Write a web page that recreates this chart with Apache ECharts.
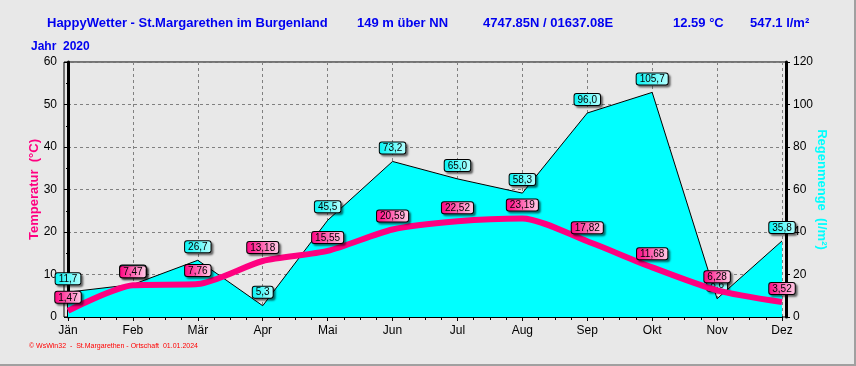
<!DOCTYPE html>
<html>
<head>
<meta charset="utf-8">
<script src="https://cdn.jsdelivr.net/npm/echarts@6/dist/echarts.min.js"></script>
<style>
  html, body { margin: 0; padding: 0; background: #e8e8e8; }
  #main { width: 856px; height: 366px; }
</style>
</head>
<body>
<div id="main"></div>
<script>
// Monatswerte 2020
var monate = ['Jän', 'Feb', 'Mär', 'Apr', 'Mai', 'Jun', 'Jul', 'Aug', 'Sep', 'Okt', 'Nov', 'Dez']
var temperatur = [1.47, 7.47, 7.76, 13.18, 15.55, 20.59, 22.52, 23.19, 17.82, 11.68, 6.28, 3.52]
var regen = [11.7, 15.3, 26.7, 5.3, 45.5, 73.2, 65.0, 58.3, 96.0, 105.7, 8.6, 35.8]

var blau = '#0000f0'
var pink = '#ff0080'
var font = 'Liberation Sans, Arial, sans-serif'

var myChart = echarts.init(document.getElementById('main'))

function boxLabel(dec, grad) {
  return {
    show: true,
    position: 'top',
    distance: 8,
    formatter: function (p) {
      return p.value[1].toFixed(dec).replace('.', ',')
    },
    fontFamily: font,
    fontSize: 10,
    color: '#000',
    backgroundColor: grad,
    borderColor: '#000',
    borderWidth: 1,
    borderRadius: 2,
    padding: [1, 3, 0, 3],
    shadowColor: 'rgba(0,0,0,0.45)',
    shadowOffsetX: 2,
    shadowOffsetY: 2,
    shadowBlur: 2
  }
}

function kopf(text, x) {
  return { text: text, left: x, top: 12, textStyle: { color: blau, fontSize: 13, fontWeight: 'bold', fontFamily: font } }
}

myChart.setOption({
  backgroundColor: '#e8e8e8',
  animation: false,
  title: [
    kopf('HappyWetter - St.Margarethen im Burgenland', 42),
    kopf('149 m über NN', 352),
    kopf('4747.85N / 01637.08E', 478),
    kopf('12.59 °C', 668),
    kopf('547.1 l/m²', 745),
    { text: 'Jahr  2020', left: 26, top: 36, textStyle: { color: blau, fontSize: 12, fontWeight: 'bold', fontFamily: font } },
    { text: '© WsWin32  -  St.Margarethen - Ortschaft  01.01.2024', left: 24, top: 338, textStyle: { color: '#ff0000', fontSize: 7, fontWeight: 'normal', fontFamily: font } }
  ],
  grid: [
    // innerer Bereich: Jän..Dez
    { left: 68, right: 74, top: 62, bottom: 49 },
    // Rahmen
    { left: 64, right: 70, top: 62, bottom: 49, show: true, borderColor: '#000', borderWidth: 1, backgroundColor: 'transparent' }
  ],
  xAxis: [
    {
      type: 'value',
      gridIndex: 0,
      min: 0,
      max: 11,
      interval: 1,
      axisLine: { lineStyle: { color: '#000', width: 2 } },
      axisTick: { length: 4, lineStyle: { color: '#000' } },
      minorTick: { show: true, splitNumber: 4, length: 3, lineStyle: { color: '#000' } },
      axisLabel: {
        margin: 8,
        color: '#000',
        fontSize: 12,
        fontFamily: font,
        formatter: function (v) { return monate[v] }
      },
      splitLine: { show: true, lineStyle: { color: '#808080', type: [3, 3] } }
    },
    { type: 'value', gridIndex: 1, show: false, min: 0, max: 1 }
  ],
  yAxis: [
    {
      type: 'value',
      gridIndex: 0,
      min: 0,
      max: 60,
      interval: 10,
      offset: 4,
      name: 'Temperatur  (°C)',
      nameLocation: 'middle',
      nameGap: 23,
      nameMoveOverlap: false,
      nameTextStyle: { color: pink, fontSize: 13, fontWeight: 'bold', fontFamily: font },
      axisLine: { show: true, lineStyle: { color: '#000', width: 3 } },
      axisTick: { show: true, length: 4, lineStyle: { color: '#000' } },
      minorTick: { show: true, splitNumber: 2, length: 2, lineStyle: { color: '#000' } },
      axisLabel: { margin: 7, color: '#000', fontSize: 12, fontFamily: font },
      splitLine: { show: true, lineStyle: { color: '#808080', type: [3, 3] } }
    },
    {
      type: 'value',
      gridIndex: 0,
      position: 'right',
      min: 0,
      max: 120,
      interval: 20,
      offset: 4,
      name: 'Regenmenge  (l/m²)',
      nameLocation: 'middle',
      nameRotate: -90,
      nameGap: 29,
      nameMoveOverlap: false,
      nameTextStyle: { color: '#00ffff', fontSize: 13, fontWeight: 'bold', fontFamily: font },
      axisLine: { show: true, lineStyle: { color: '#000', width: 3 } },
      axisTick: { show: true, length: 4, lineStyle: { color: '#000' } },
      minorTick: { show: true, splitNumber: 2, length: 2, lineStyle: { color: '#000' } },
      axisLabel: { margin: 7, color: '#000', fontSize: 12, fontFamily: font },
      splitLine: { show: false }
    },
    { type: 'value', gridIndex: 1, show: false, min: 0, max: 1 }
  ],
  series: [
    {
      name: 'Regenmenge',
      type: 'line',
      xAxisIndex: 0,
      yAxisIndex: 1,
      z: 2,
      data: regen.map(function (v, i) { return [i, v] }),
      symbol: 'circle',
      symbolSize: 0,
      lineStyle: { color: '#000', width: 1 },
      itemStyle: { color: '#00ffff' },
      areaStyle: { color: '#00ffff', opacity: 1 },
      label: boxLabel(1, {
        type: 'linear', x: 0, y: 0, x2: 1, y2: 0,
        colorStops: [{ offset: 0, color: '#00f4f4' }, { offset: 1, color: '#b8ffff' }]
      })
    },
    {
      name: 'Temperatur',
      type: 'line',
      xAxisIndex: 0,
      yAxisIndex: 0,
      z: 3,
      data: temperatur.map(function (v, i) { return [i, v] }),
      smooth: 0.25,
      symbol: 'circle',
      symbolSize: 0,
      lineStyle: { color: pink, width: 6 },
      itemStyle: { color: pink },
      label: boxLabel(2, {
        type: 'linear', x: 0, y: 0, x2: 1, y2: 0,
        colorStops: [{ offset: 0, color: '#ff0080' }, { offset: 1, color: '#ffd0e8' }]
      })
    }
  ],
  graphic: [
    { type: 'line', shape: { x1: 0, y1: 365, x2: 856, y2: 365 }, style: { stroke: '#a0a0a0', lineWidth: 2 } },
    { type: 'line', shape: { x1: 855, y1: 0, x2: 855, y2: 366 }, style: { stroke: '#a0a0a0', lineWidth: 2 } }
  ]
})
</script>
</body>
</html>
